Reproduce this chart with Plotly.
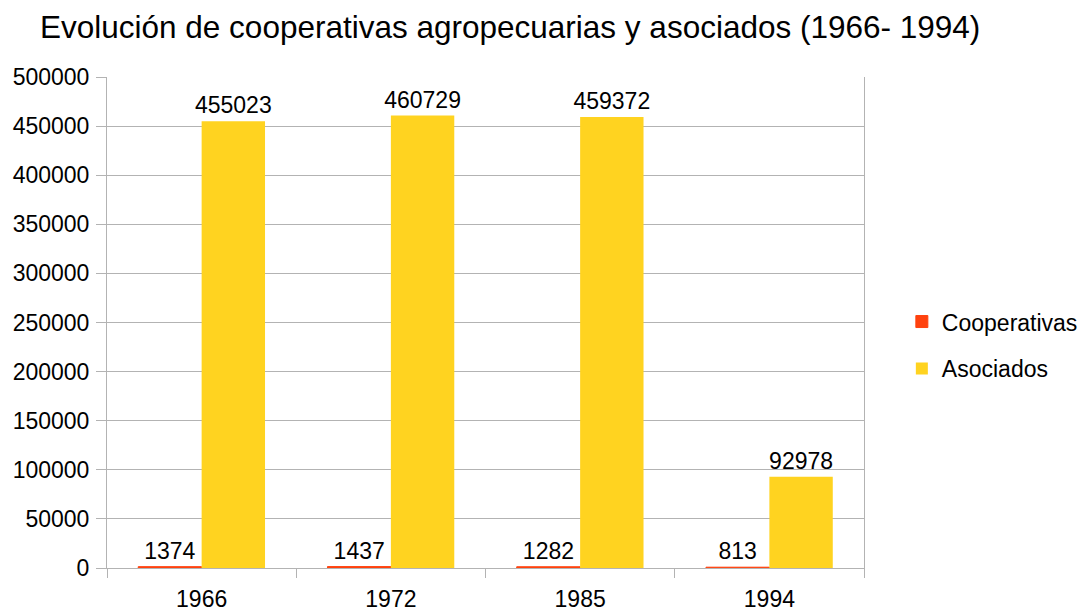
import plotly.graph_objects as go

years = ['1966', '1972', '1985', '1994']
cooperativas = [1374, 1437, 1282, 813]
asociados = [455023, 460729, 459372, 92978]

FONT = 'Liberation Sans, Arial, sans-serif'
# the page body has an 8px margin, so the figure is shifted by 8px
OFF = 8

fig = go.Figure()

fig.add_trace(go.Bar(
    x=years, y=cooperativas, name='Cooperativas', legendgroup='c',
    marker=dict(color='#ff420e', line=dict(width=1, color='#ff420e')),
    text=cooperativas, textposition='outside', cliponaxis=False,
    constraintext='none',
    textfont=dict(color='#000000', size=23)
))
fig.add_trace(go.Bar(
    x=years, y=asociados, name='Asociados', legendgroup='a',
    marker=dict(color='#ffd320', line=dict(width=0)),
    text=asociados, textposition='outside', cliponaxis=False,
    constraintext='none',
    textfont=dict(color='#000000', size=23)
))

fig.update_layout(
    title=dict(
        text='Evolución de cooperativas agropecuarias y asociados (1966- 1994)',
        font=dict(size=31.5, color='#000000', family=FONT),
        x=(40 - OFF) / 1086, xanchor='left', y=1 - (27 - OFF) / 611, yanchor='middle'
    ),
    font=dict(family=FONT, color='#000000', size=23),
    plot_bgcolor='#ffffff',
    paper_bgcolor='#ffffff',
    barmode='group',
    bargap=0.33,
    bargroupgap=0,
    xaxis=dict(
        showgrid=False,
        showline=True, linecolor='#b3b3b3', linewidth=1,
        ticks='outside', tickson='boundaries', ticklen=9, tickcolor='#b3b3b3',
        ticklabelstandoff=10, automargin=False,
        tickfont=dict(size=23),
    ),
    yaxis=dict(
        range=[0, 500000], dtick=50000, tickformat='d',
        gridcolor='#b3b3b3', gridwidth=1,
        showline=True, linecolor='#b3b3b3', linewidth=1, mirror=True,
        ticks='outside', ticklen=10, tickcolor='#b3b3b3',
        ticklabelstandoff=2, automargin=False,
        tickfont=dict(size=23),
        zeroline=False
    ),
    legend=dict(
        x=1.05, xanchor='left', y=0.454, yanchor='middle',
        font=dict(size=23), tracegroupgap=14, bgcolor='rgba(0,0,0,0)'
    ),
    margin=dict(l=107 - OFF, r=1086 - (864 - OFF), t=77 - OFF, b=611 - (568 - OFF),
                autoexpand=False),
    width=1086, height=611
)

fig.write_html('out.html')
